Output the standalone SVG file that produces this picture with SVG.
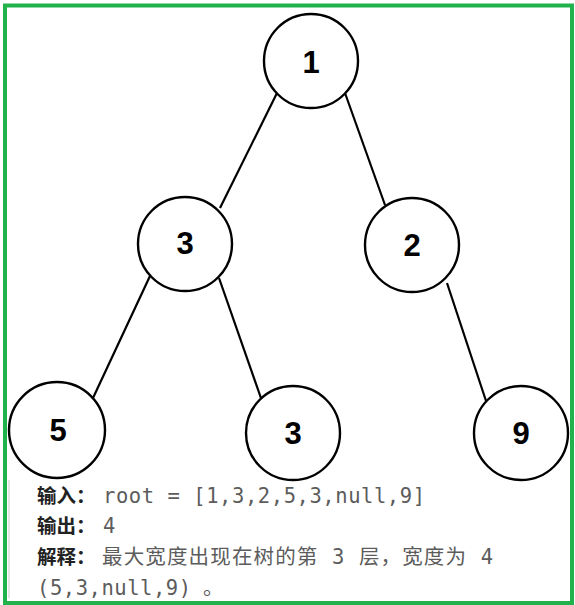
<svg xmlns="http://www.w3.org/2000/svg" width="575" height="605" viewBox="0 0 575 605">
<style>
.node circle{fill:#fff;stroke:#000;stroke-width:2.4}
.node text{font-family:"Liberation Sans",Arial,sans-serif;font-weight:bold;font-size:31px;fill:#000;text-anchor:middle;dominant-baseline:central}
.edges line{stroke:#000;stroke-width:2.2}
.lbl{font-family:"DejaVu Sans Mono","Noto Sans CJK SC",monospace;font-weight:bold;font-size:19.5px;fill:#222}
.txt{font-family:"DejaVu Sans Mono","Noto Sans CJK SC",monospace;font-size:20.5px;fill:#5c5c5c}
</style>
<rect x="0" y="0" width="575" height="605" fill="#fff"/>
<g class="edges">
<line x1="277" y1="93" x2="220" y2="208"/>
<line x1="345" y1="93" x2="385" y2="205"/>
<line x1="150" y1="276" x2="93" y2="398"/>
<line x1="219" y1="278" x2="262" y2="401"/>
<line x1="447" y1="283" x2="489" y2="410"/>
</g>
<g id="n1" class="node"><circle cx="311" cy="61" r="47"/><text x="311" y="62">1</text></g>
<g id="n3a" class="node"><circle cx="185" cy="244" r="47"/><text x="185" y="243">3</text></g>
<g id="n2" class="node"><circle cx="412" cy="245" r="47"/><text x="412" y="245">2</text></g>
<g id="n5" class="node"><circle cx="57" cy="430" r="48"/><text x="58" y="430">5</text></g>
<g id="n3b" class="node"><circle cx="293" cy="433" r="47"/><text x="293" y="433">3</text></g>
<g id="n9" class="node"><circle cx="521" cy="433" r="47"/><text x="521" y="433">9</text></g>
<line x1="9" y1="480" x2="9" y2="598" stroke="#e6e6e6" stroke-width="2"/>
<g id="caption">
<text class="lbl" x="37" y="503">输入：</text><text class="txt" x="103" y="503" textLength="322" lengthAdjust="spacing">root = [1,3,2,5,3,null,9]</text>
<text class="lbl" x="37" y="533">输出：</text><text class="txt" x="103" y="533">4</text>
<text class="lbl" x="37" y="564">解释：</text><text class="txt" x="102" y="564" textLength="391" lengthAdjust="spacing">最大宽度出现在树的第 3 层，宽度为 4</text>
<text class="txt" x="37" y="595" textLength="154" lengthAdjust="spacing">(5,3,null,9)</text><text class="txt" x="203" y="595">。</text>
</g>
<rect x="5" y="5.5" width="567" height="597.5" fill="none" stroke="#22b24c" stroke-width="4"/>
</svg>
